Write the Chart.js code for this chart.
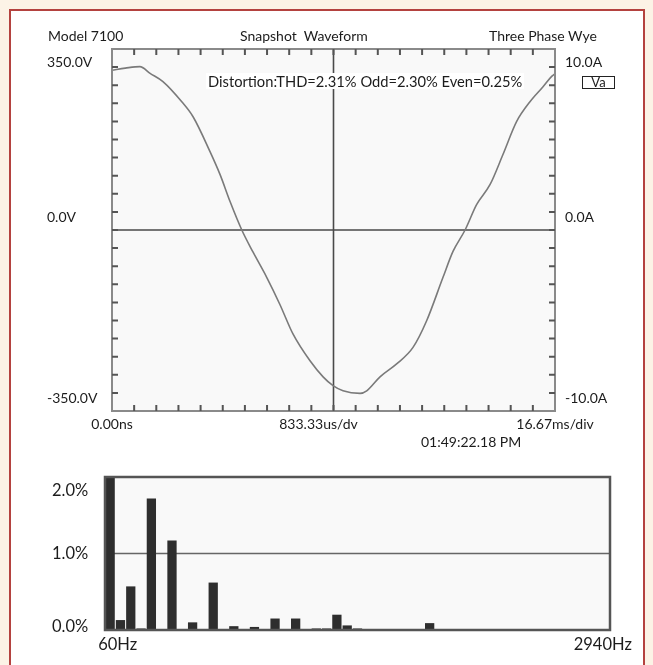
<!DOCTYPE html>
<html>
<head>
<meta charset="utf-8">
<script src="https://cdn.jsdelivr.net/npm/chart.js@4.4.0/dist/chart.umd.min.js"></script>
<style>
html, body { margin: 0; padding: 0; }
body { width: 653px; height: 665px; background: #fcf3e6; position: relative; overflow: hidden; font-family: Lato, sans-serif; color: #1c1c1c; }
#frame { position: absolute; left: 9px; top: 9px; width: 632px; height: 680px; border: 2px solid #b4423f; background: #fff; }
canvas { position: absolute; left: 0; }
#scope { top: 0; }
#spectrum { top: 460px; }
.lbl { position: absolute; font-size: 14px; white-space: nowrap; line-height: 14px; }
#distortion { background: #fff; padding: 1px 2px; font-size: 14.7px; }
#va { border: 1px solid #222; font-size: 13px; line-height: 11px; width: 31px; text-align: center; }
</style>
</head>
<body>
<div id="frame"></div>
<canvas id="scope" width="653" height="460"></canvas>
<canvas id="spectrum" width="653" height="205"></canvas>

<div class="lbl" style="left:48px; top:29px;">Model 7100</div>
<div class="lbl" style="left:240px; top:29px;">Snapshot&nbsp; Waveform</div>
<div class="lbl" style="left:489px; top:29px;">Three Phase Wye</div>
<div class="lbl" id="distortion" style="left:206px; top:73px;">Distortion:THD=2.31% Odd=2.30% Even=0.25%</div>
<div class="lbl" id="va" style="left:582px; top:76px;">Va</div>
<div class="lbl" style="left:421px; top:435px;">01:49:22.18 PM</div>

<script>
// waveform, time in divisions (20 div = 16.67 ms), volts
const waveTime = [0, 0.6, 1.26, 1.72, 2.30, 3.15, 3.66, 4.42, 4.88, 5.33, 5.86, 6.37, 6.99, 7.58, 8.17, 8.94, 9.53, 9.98, 10.43, 11.2, 11.5, 12.1, 12.85, 13.59, 14.2, 14.94, 15.4, 15.94, 16.46, 17.07, 17.65, 18.27, 18.87, 19.46, 19.85, 20];
const waveVolts = [309, 313, 316, 303, 287, 248, 219, 152, 107, 55, 0, -43, -92, -144, -201, -253, -284, -301, -311, -316, -311, -284, -259, -227, -176, -92, -41, 0, 49, 88, 146, 210, 248, 277, 297, 302];

const voltTicks = [350, 0, -350];
const voltLabels = ['350.0V', '0.0V', '-350.0V'];
const ampLabels = ['10.0A', '0.0A', '-10.0A'];
const timeTicks = [0, 10, 20];
const timeLabels = ['0.00ns', '833.33us/dv', '16.67ms/div'];

// harmonic spectrum, % of fundamental
const harmonicFreqs = [];
for (let h = 1; h <= 49; h++) harmonicFreqs.push(h * 60 + 'Hz');
const harmonicPct = [100, 0.13, 0.57, 0.02, 1.72, 0.01, 1.17, 0.01, 0.10, 0.01,
    0.62, 0.01, 0.05, 0, 0.04, 0.01, 0.15, 0.01, 0.15, 0,
    0.02, 0.02, 0.20, 0.06, 0.02, 0, 0.01, 0.01, 0.01, 0.01,
    0, 0.09, 0.01, 0.01, 0.01, 0, 0, 0, 0, 0.01,
    0, 0, 0.01, 0, 0.01, 0, 0.01, 0.01, 0];
const pctTicks = [2, 1, 0];
const pctLabels = ['2.0%', '1.0%', '0.0%'];

const FONT = '14px Lato, sans-serif';
const BIG_FONT = '16.5px Lato, sans-serif';
const INK = '#1c1c1c';

const scopeFrame = {
    id: 'scopeFrame',
    beforeDraw(chart) {
        const { ctx, chartArea: a } = chart;
        ctx.save();
        ctx.fillStyle = '#f9f9f9';
        ctx.fillRect(a.left, a.top, a.right - a.left, a.bottom - a.top);
        ctx.restore();
    },
    beforeDatasetsDraw(chart) {
        const { ctx, chartArea: a, scales } = chart;
        const cx = scales.x.getPixelForValue(10);
        const cy = scales.y.getPixelForValue(0);
        ctx.save();
        ctx.strokeStyle = '#4a4a4a';
        ctx.lineWidth = 1.6;
        ctx.beginPath();
        ctx.moveTo(cx, a.top); ctx.lineTo(cx, a.bottom);
        ctx.moveTo(a.left, cy); ctx.lineTo(a.right, cy);
        ctx.stroke();
        ctx.restore();
    },
    afterDraw(chart) {
        const { ctx, chartArea: a, scales } = chart;
        ctx.save();
        ctx.strokeStyle = '#8a8a8a';
        ctx.lineWidth = 2;
        ctx.strokeRect(a.left, a.top, a.right - a.left, a.bottom - a.top);

        // inward tick marks
        ctx.strokeStyle = '#555';
        ctx.lineWidth = 2;
        ctx.beginPath();
        for (let d = 1; d < 20; d++) {
            const x = scales.x.getPixelForValue(d);
            ctx.moveTo(x, a.top); ctx.lineTo(x, a.top + 6);
            ctx.moveTo(x, a.bottom); ctx.lineTo(x, a.bottom - 6);
        }
        for (let v = -315; v < 350; v += 35) {
            const y = scales.y.getPixelForValue(v);
            ctx.moveTo(a.left, y); ctx.lineTo(a.left + 6, y);
            ctx.moveTo(a.right, y); ctx.lineTo(a.right - 6, y);
        }
        ctx.stroke();

        ctx.fillStyle = INK;
        ctx.font = FONT;
        ctx.textBaseline = 'middle';
        voltTicks.forEach((v, i) => {
            let y = scales.y.getPixelForValue(v);
            y += (v === scales.y.max) ? 13 : -13;
            ctx.textAlign = 'left';
            ctx.fillText(voltLabels[i], 47, y);
            ctx.fillText(ampLabels[i], a.right + 10, y);
        });
        ctx.textAlign = 'center';
        timeTicks.forEach((t, i) => {
            let x = scales.x.getPixelForValue(t);
            if (t === 10) x -= 15;
            ctx.fillText(timeLabels[i], x, a.bottom + 13);
        });
        ctx.restore();
    }
};

new Chart(document.getElementById('scope'), {
    type: 'line',
    data: {
        datasets: [{
            data: waveTime.map((t, i) => ({ x: t, y: waveVolts[i] })),
            borderColor: '#7a7a7a',
            borderWidth: 1.6,
            pointRadius: 0,
            cubicInterpolationMode: 'monotone',
            fill: false
        }]
    },
    options: {
        responsive: false,
        animation: false,
        layout: { padding: { left: 112, right: 98, top: 49, bottom: 49 } },
        plugins: { legend: { display: false }, tooltip: { enabled: false } },
        scales: {
            x: { type: 'linear', min: 0, max: 20, display: false },
            y: { type: 'linear', min: -350, max: 350, display: false }
        }
    },
    plugins: [scopeFrame]
});

const spectrumFrame = {
    id: 'spectrumFrame',
    beforeDraw(chart) {
        const { ctx, chartArea: a, scales } = chart;
        ctx.save();
        ctx.fillStyle = '#f9f9f9';
        ctx.fillRect(a.left, a.top, a.right - a.left, a.bottom - a.top);
        const y1 = scales.y.getPixelForValue(1);
        ctx.strokeStyle = '#666';
        ctx.lineWidth = 1.6;
        ctx.beginPath();
        ctx.moveTo(a.left, y1); ctx.lineTo(a.right, y1);
        ctx.stroke();
        ctx.restore();
    },
    afterDraw(chart) {
        const { ctx, chartArea: a, scales } = chart;
        ctx.save();
        ctx.strokeStyle = '#555';
        ctx.lineWidth = 2.5;
        ctx.strokeRect(a.left, a.top, a.right - a.left, a.bottom - a.top);

        ctx.fillStyle = INK;
        ctx.font = BIG_FONT;
        ctx.textBaseline = 'middle';
        ctx.textAlign = 'left';
        pctTicks.forEach((v, i) => {
            let y = scales.y.getPixelForValue(v);
            y += (v === scales.y.max) ? 14 : (v === 0 ? -3 : 0);
            ctx.fillText(pctLabels[i], 52, y);
        });
        const first = scales.x.getPixelForValue(0);
        const last = scales.x.getPixelForValue(harmonicFreqs.length - 1);
        ctx.fillText(harmonicFreqs[0], first - 12, a.bottom + 15);
        ctx.textAlign = 'right';
        ctx.fillText(harmonicFreqs[harmonicFreqs.length - 1], last + 27, a.bottom + 15);
        ctx.restore();
    }
};

new Chart(document.getElementById('spectrum'), {
    type: 'bar',
    data: {
        labels: harmonicFreqs,
        datasets: [{
            data: harmonicPct,
            backgroundColor: '#2e2e2e',
            borderWidth: 0,
            barPercentage: 0.9,
            categoryPercentage: 1.0
        }]
    },
    options: {
        responsive: false,
        animation: false,
        layout: { padding: { left: 105, right: 43, top: 17, bottom: 35 } },
        plugins: { legend: { display: false }, tooltip: { enabled: false } },
        scales: {
            x: { display: false },
            y: { min: 0, max: 2, display: false }
        }
    },
    plugins: [spectrumFrame]
});
</script>
</body>
</html>
